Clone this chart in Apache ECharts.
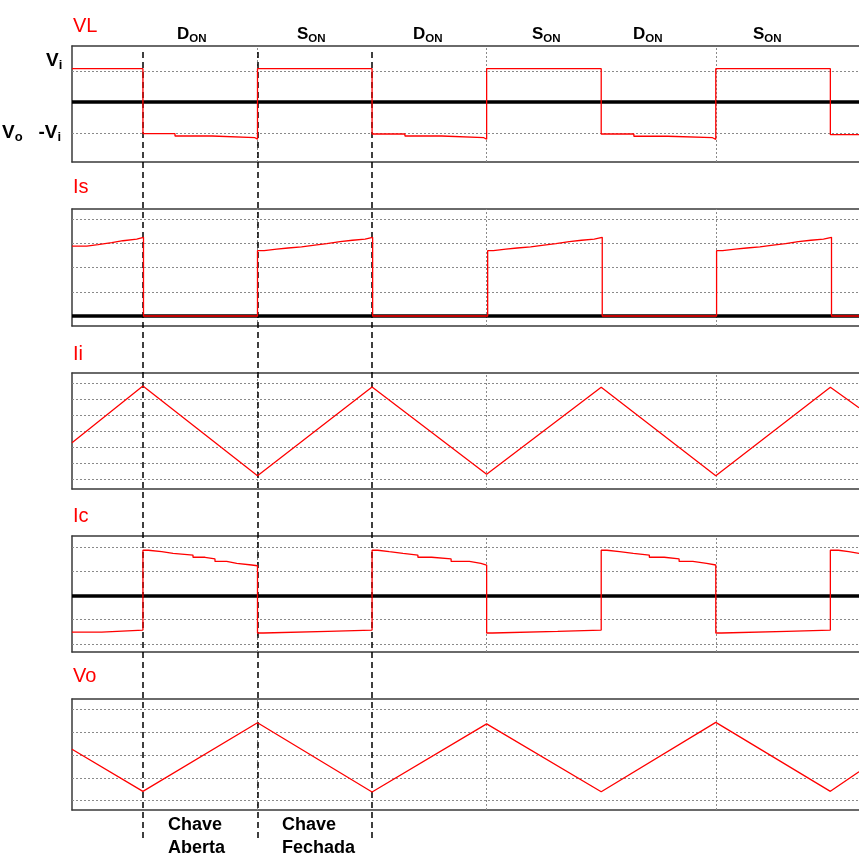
<!DOCTYPE html>
<html>
<head>
<meta charset="utf-8">
<script src="https://cdn.jsdelivr.net/npm/echarts@6/dist/echarts.min.js"></script>
<style>
html,body{margin:0;padding:0;background:#fff;}
#chart{width:859px;height:855px;}
</style>
</head>
<body>
<div id="chart"></div>
<script>
// ---- time axis (unit = one half switching period; t=0 at a switch turn-on) ----
const timeMin = -1.619;
const timeMax = 5.25;
const timeGridX = [0, 2, 4];          // dotted vertical grid lines
const switchX = [-1, 0, 1];           // dashed switching markers

// ---- panel titles and interval labels ----
const panelTitles = ['VL', 'Is', 'Ii', 'Ic', 'Vo'];
const intervalMain = ['D', 'S', 'D', 'S', 'D', 'S'];
const intervalSub = ['ON', 'ON', 'ON', 'ON', 'ON', 'ON'];
const bottomLabels = ['Chave\nAberta', 'Chave\nFechada'];

// ---- VL (step) ----
const vlT = [-1.619, -1.0, -0.72, -0.397, -0.022, 0.0, 1.0, 1.287, 1.607, 1.976, 2.0, 3.0, 3.285, 3.582, 3.972, 4.0, 5.0, 5.25];
const vlV = [1.074, -1.023, -1.097, -1.152, -1.203, 1.074, -1.032, -1.097, -1.152, -1.203, 1.074, -1.032, -1.105, -1.152, -1.203, 1.074, -1.055, -1.055];
const vlGridY = [1, -1];

// ---- Is (step) ----
const isT = [-1.619, -1.49, -1.392, -1.272, -1.174, -1.054, -0.995,
  0.0, 0.058, 0.168, 0.267, 0.384, 0.5, 0.605, 0.721, 0.829, 0.939, 1.005,
  2.009, 2.058, 2.168, 2.267, 2.384, 2.5, 2.605, 2.721, 2.829, 2.939, 3.009,
  4.007, 4.06, 4.17, 4.27, 4.385, 4.5, 4.61, 4.72, 4.83, 4.94, 5.01, 5.25];
const isV = [2.89, 2.95, 3.03, 3.11, 3.18, 3.25, 0,
  2.70, 2.76, 2.81, 2.86, 2.93, 2.99, 3.07, 3.13, 3.18, 3.25, 0,
  2.70, 2.76, 2.81, 2.86, 2.93, 2.99, 3.07, 3.13, 3.18, 3.25, 0,
  2.70, 2.76, 2.81, 2.86, 2.93, 2.99, 3.07, 3.13, 3.18, 3.25, 0, 0];
const isGridY = [1, 2, 3, 4];

// ---- Ii (triangle) ----
const iiT = [-1.619, -1.0, 0.0, 1.0, 2.0, 3.0, 4.0, 5.0, 5.25];
const iiV = [3.30, 6.82, 1.25, 6.76, 1.34, 6.74, 1.25, 6.74, 5.47];
const iiGridY = [1, 2, 3, 4, 5, 6, 7];

// ---- Ic (step) ----
const icT = [-1.619, -1.36, -1.0, -0.953, -0.836, -0.737, -0.563, -0.458, -0.371, -0.269, -0.181, -0.051,
  0.0, 0.05, 0.615, 1.0, 1.05, 1.15, 1.27, 1.40, 1.52, 1.69, 1.85, 1.95,
  2.0, 2.05, 2.62, 3.0, 3.05, 3.16, 3.28, 3.42, 3.55, 3.68, 3.80, 3.92,
  4.0, 4.05, 4.62, 5.0, 5.07, 5.16, 5.25];
const icV = [-1.51, -1.43, 1.87, 1.81, 1.74, 1.67, 1.58, 1.51, 1.41, 1.33, 1.26, 1.23,
  -1.55, -1.48, -1.43, 1.87, 1.81, 1.74, 1.67, 1.58, 1.51, 1.41, 1.33, 1.26,
  -1.55, -1.48, -1.43, 1.87, 1.81, 1.74, 1.67, 1.58, 1.51, 1.41, 1.33, 1.26,
  -1.55, -1.48, -1.43, 1.87, 1.81, 1.74, 1.74];
const icGridY = [-2, -1, 1, 2];

// ---- Vo (triangle) ----
const voT = [-1.619, -1.0, 0.0, 1.0, 2.0, 3.0, 4.0, 5.0, 5.25];
const voV = [3.25, 1.41, 4.41, 1.38, 4.36, 1.39, 4.43, 1.41, 2.27];
const voGridY = [1, 2, 3, 4, 5];

// ---- layout ----
const FONT = '"Liberation Sans", Arial, sans-serif';
const panels = [
  {t: vlT, v: vlV, grid: vlGridY, top: 46, height: 116, min: -1.935, max: 1.806, zero: true, step: 'end'},
  {t: isT, v: isV, grid: isGridY, top: 209, height: 117, min: -0.413, max: 4.421, zero: true, step: 'end'},
  {t: iiT, v: iiV, grid: iiGridY, top: 373, height: 116, min: 0.422, max: 7.627, zero: false, step: false},
  {t: icT, v: icV, grid: icGridY, top: 536, height: 116, min: -2.335, max: 2.459, zero: true, step: 'end'},
  {t: voT, v: voV, grid: voGridY, top: 699, height: 111, min: 0.593, max: 5.451, zero: false, step: false}
];
const titleTops = [16, 177, 344, 506, 666];
const intervalLeft = [177, 297, 413, 532, 633, 753];

const grids = [], xAxes = [], yAxes = [], series = [];
const gridLine = {type: [2, 2], color: '#8a8a8a', width: 1};
const borderLine = {color: '#3a3a3a', width: 1.5};

panels.forEach((p, i) => {
  grids.push({left: 72, top: p.top, width: 787, height: p.height, show: false});
  xAxes.push({gridIndex: i, type: 'value', min: timeMin, max: timeMax, position: 'bottom',
    axisLabel: {show: false}, axisTick: {show: false}, splitLine: {show: false},
    axisLine: {show: true, onZero: false, lineStyle: borderLine}});
  xAxes.push({gridIndex: i, type: 'value', min: timeMin, max: timeMax, position: 'top',
    axisLabel: {show: false}, axisTick: {show: false}, splitLine: {show: false},
    axisLine: {show: true, onZero: false, lineStyle: borderLine}});
  yAxes.push({gridIndex: i, type: 'value', min: p.min, max: p.max, position: 'left',
    axisLabel: {show: false}, axisTick: {show: false}, splitLine: {show: false},
    axisLine: {show: true, onZero: false, lineStyle: borderLine}});
  const marks = p.grid.map(y => ({yAxis: y})).concat(timeGridX.map(x => ({xAxis: x})));
  if (p.zero) marks.push({yAxis: 0, lineStyle: {type: 'solid', color: '#000', width: 3.5}});
  series.push({type: 'line', xAxisIndex: 2 * i, yAxisIndex: i, data: [], silent: true, z: 1,
    markLine: {silent: true, symbol: ['none', 'none'], label: {show: false}, animation: false,
      lineStyle: gridLine, emphasis: {disabled: true}, data: marks}});
  series.push({type: 'line', xAxisIndex: 2 * i, yAxisIndex: i, step: p.step, symbol: 'none', z: 10,
    lineStyle: {color: '#ff0000', width: 1.3}, itemStyle: {color: '#ff0000'},
    data: p.t.map((t, k) => [t, p.v[k]])});
});

// overlay for dashed switching lines
const ov = panels.length;
grids.push({left: 72, top: 49, width: 787, height: 789, show: false});
xAxes.push({gridIndex: ov, type: 'value', min: timeMin, max: timeMax, show: false});
yAxes.push({gridIndex: ov, type: 'value', min: 0, max: 1, show: false});
series.push({type: 'line', xAxisIndex: xAxes.length - 1, yAxisIndex: yAxes.length - 1, data: [], silent: true, z: 20,
  markLine: {silent: true, symbol: ['none', 'none'], label: {show: false}, animation: false,
    lineStyle: {type: [6, 4], color: '#000', width: 1.5}, emphasis: {disabled: true},
    data: switchX.map(x => ({xAxis: x}))}});

// titles
const titles = [];
panelTitles.forEach((s, i) => {
  titles.push({text: s, left: 73, top: titleTops[i], padding: 0,
    textStyle: {color: '#ff0000', fontSize: 20, fontWeight: 'normal', fontFamily: FONT}});
});
const topRich = {
  m: {fontSize: 17, fontWeight: 'bold', color: '#000', fontFamily: FONT, lineHeight: 19, verticalAlign: 'top'},
  s: {fontSize: 11.5, fontWeight: 'bold', color: '#000', fontFamily: FONT, verticalAlign: 'bottom'}
};
intervalMain.forEach((m, i) => {
  titles.push({text: '{m|' + m + '}{s|' + intervalSub[i] + '}', left: intervalLeft[i], top: 26, padding: 0,
    textStyle: {rich: topRich}});
});
const sideRich = {
  m: {fontSize: 19, fontWeight: 'bold', color: '#000', fontFamily: FONT, lineHeight: 21, verticalAlign: 'top'},
  s: {fontSize: 13, fontWeight: 'bold', color: '#000', fontFamily: FONT, verticalAlign: 'bottom'}
};
titles.push({text: '{m|V}{s|i}', left: 46, top: 51, padding: 0, textStyle: {rich: sideRich}});
titles.push({text: '{m|V}{s|o}{m|   -V}{s|i}', left: 2, top: 123, padding: 0, textStyle: {rich: sideRich}});
const bottomLeft = [168, 282];
bottomLabels.forEach((s, i) => {
  titles.push({text: s, left: bottomLeft[i], top: 814, padding: 0,
    textStyle: {fontSize: 18, fontWeight: 'bold', color: '#000', fontFamily: FONT, lineHeight: 23}});
});

const chart = echarts.init(document.getElementById('chart'), null, {renderer: 'canvas'});
chart.setOption({
  animation: false,
  backgroundColor: '#fff',
  title: titles,
  grid: grids,
  xAxis: xAxes,
  yAxis: yAxes,
  series: series
});
</script>
</body>
</html>
